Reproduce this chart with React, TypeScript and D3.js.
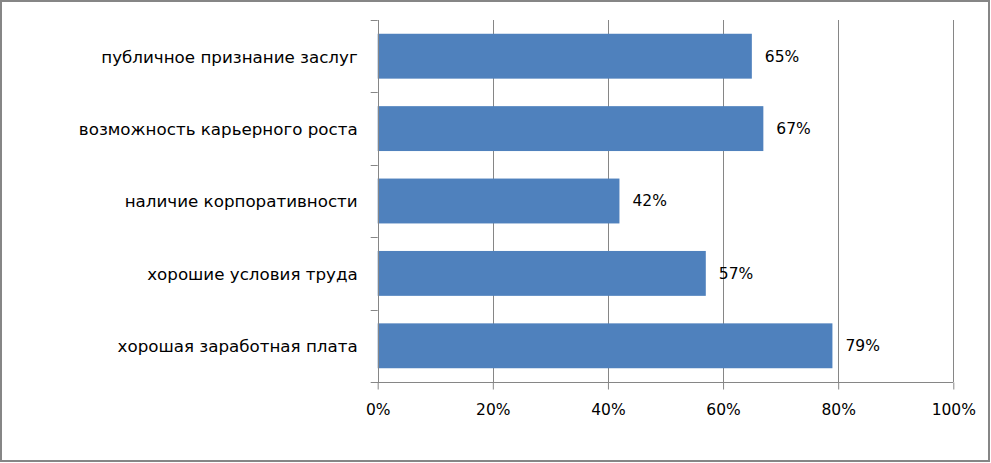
import { useEffect, useRef } from "react";
import * as d3 from "d3";

const categories = [
  "публичное признание заслуг",
  "возможность карьерного роста",
  "наличие корпоративности",
  "хорошие условия труда",
  "хорошая заработная плата",
];
const values = [65, 67, 42, 57, 79];
const xTicks = [0, 20, 40, 60, 80, 100];

export default function App() {
  const svgRef = useRef<SVGSVGElement | null>(null);

  useEffect(() => {
    document.body.style.margin = "0";
    if (!svgRef.current) return;

    const width = 991;
    const height = 463;
    const plot = { left: 377.7, right: 953.3, top: 20, bottom: 382 };
    const grey = "#868686";
    const font = "'DejaVu Sans', 'Liberation Sans', sans-serif";

    const svg = d3.select(svgRef.current);
    svg.selectAll("*").remove();

    // outer frame
    svg
      .append("rect")
      .attr("x", 1)
      .attr("y", 1)
      .attr("width", width - 3)
      .attr("height", height - 3)
      .attr("fill", "#fff")
      .attr("stroke", grey)
      .attr("stroke-width", 2);

    const x = d3.scaleLinear().domain([0, 100]).range([plot.left, plot.right]);
    const y = d3
      .scaleBand<string>()
      .domain(categories)
      .range([plot.top, plot.bottom])
      .paddingInner(0.38)
      .paddingOuter(0.19);

    // vertical gridlines
    svg
      .append("g")
      .selectAll("line")
      .data(xTicks.slice(1))
      .join("line")
      .attr("x1", (d) => Math.round(x(d)) + 0.5)
      .attr("x2", (d) => Math.round(x(d)) + 0.5)
      .attr("y1", plot.top)
      .attr("y2", plot.bottom)
      .attr("stroke", grey)
      .attr("stroke-width", 1);

    // bars
    svg
      .append("g")
      .selectAll("rect")
      .data(values)
      .join("rect")
      .attr("x", x(0))
      .attr("y", (_, i) => y(categories[i])!)
      .attr("width", (d) => x(d) - x(0))
      .attr("height", y.bandwidth())
      .attr("fill", "#4F81BD");

    // value labels
    svg
      .append("g")
      .selectAll("text")
      .data(values)
      .join("text")
      .attr("x", (d) => x(d) + 13)
      .attr("y", (_, i) => y(categories[i])! + y.bandwidth() / 2)
      .attr("dy", "0.35em")
      .attr("font-family", font)
      .attr("font-size", 15.5)
      .attr("fill", "#000")
      .text((d) => `${d}%`);

    // x axis
    const xAxis = d3
      .axisBottom(x)
      .tickValues(xTicks)
      .tickSize(7)
      .tickPadding(14)
      .tickFormat((d) => `${d}%`);
    const gx = svg
      .append("g")
      .attr("transform", `translate(0,${plot.bottom + 0.5})`)
      .call(xAxis);
    gx.selectAll("path,line").attr("stroke", grey);
    gx.select(".domain").attr("d", `M${plot.left - 7},0H${plot.right}`);
    gx.selectAll("text")
      .attr("font-family", font)
      .attr("font-size", 15.5)
      .attr("fill", "#000");

    // y axis
    const tickY = d3.range(categories.length + 1).map((i) => plot.top + (i * (plot.bottom - plot.top)) / categories.length);
    const gy = svg.append("g");
    gy.append("line")
      .attr("x1", Math.round(plot.left) + 0.5)
      .attr("x2", Math.round(plot.left) + 0.5)
      .attr("y1", plot.top)
      .attr("y2", plot.bottom)
      .attr("stroke", grey);
    gy.selectAll("line.tick")
      .data(tickY.slice(0, -1))
      .join("line")
      .attr("class", "tick")
      .attr("x1", plot.left - 7)
      .attr("x2", plot.left)
      .attr("y1", (d) => Math.round(d) + 0.5)
      .attr("y2", (d) => Math.round(d) + 0.5)
      .attr("stroke", grey);
    gy.selectAll("text")
      .data(categories)
      .join("text")
      .attr("x", plot.left - 20)
      .attr("y", (d) => y(d)! + y.bandwidth() / 2)
      .attr("dy", "0.38em")
      .attr("text-anchor", "end")
      .attr("font-family", font)
      .attr("font-size", 16.7)
      .attr("fill", "#000")
      .text((d) => d);
  }, []);

  return <svg ref={svgRef} width={991} height={463} style={{ display: "block" }} />;
}
